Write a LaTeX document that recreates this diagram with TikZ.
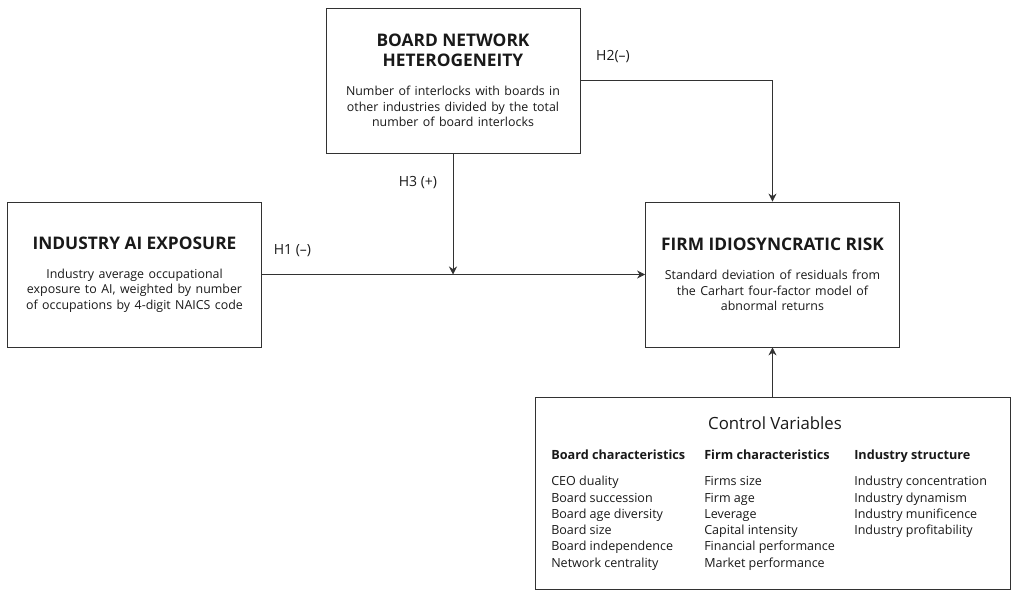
\documentclass[tikz,border=0pt]{standalone}
\usepackage{fontspec}
\setmainfont{Open Sans}
\usetikzlibrary{arrows.meta,positioning}
\definecolor{ink}{RGB}{25,25,25}
\definecolor{frame}{RGB}{50,50,50}
\newcommand{\vtitle}{\fontsize{13}{15}\selectfont\bfseries}
\newcommand{\vdesc}{\fontsize{9.3}{11.7}\selectfont}
\tikzset{
  var/.style={draw=frame,line width=0.6pt,align=center,inner sep=0pt,text width=190.5pt,
    minimum height=108.75pt,text=ink},
  arr/.style={-{Stealth[length=6pt,width=6pt]},line width=0.6pt,frame},
  hyp/.style={font=\fontsize{10.5}{12}\selectfont,text=ink,inner sep=0pt},
  colhead/.style={anchor=base west,inner sep=0pt,text=ink,font=\fontsize{9.5}{11}\selectfont\bfseries},
  item/.style={anchor=base west,inner sep=0pt,text=ink,font=\fontsize{9.4}{11}\selectfont},
}

\begin{document}
\begin{tikzpicture}[x=0.75pt,y=-0.75pt]
\useasboundingbox (0,0) rectangle (1011,591);
% variables
\node[var] (board) at (453,80.5) {{\vtitle BOARD NETWORK\\HETEROGENEITY\par}\vspace{10pt}%
  {\vdesc Number of interlocks with boards in\\other industries divided by the total\\number of board interlocks\par}};
\node[var] (ai) at (134.5,274.5) {{\vtitle INDUSTRY AI EXPOSURE\par}\vspace{10pt}%
  {\vdesc Industry average occupational\\exposure to AI, weighted by number\\of occupations by 4-digit NAICS code\par}};
\node[var] (risk) at (772.5,274.5) {{\vtitle FIRM IDIOSYNCRATIC RISK\par}\vspace{10pt}%
  {\vdesc Standard deviation of residuals from\\the Carhart four-factor model of\\abnormal returns\par}};
% controls
\node[draw=frame,line width=0.6pt,minimum width=356.25pt,minimum height=144pt,inner sep=0pt] (ctrl) at (772.5,493) {};
\node[text=ink,font=\fontsize{12.6}{14}\selectfont,inner sep=0pt,anchor=base] (ctrlT) at (775,430) {Control Variables};
\node[colhead] (hb) at (551,460) {Board characteristics};
\node[colhead] (hf) at (704,460) {Firm characteristics};
\node[colhead] (hs) at (854,460) {Industry structure};
\foreach \i/\t in {0/CEO duality,1/Board succession,2/Board age diversity,3/Board size,
  4/Board independence,5/Network centrality}
  \node[item] (b\i) at (551,486+16.2*\i) {\t};
\foreach \i/\t in {0/Firms size,1/Firm age,2/Leverage,3/Capital intensity,
  4/Financial performance,5/Market performance}
  \node[item] (f\i) at (704,486+16.2*\i) {\t};
\foreach \i/\t in {0/Industry concentration,1/Industry dynamism,2/Industry munificence,
  3/Industry profitability}
  \node[item] (s\i) at (854,486+16.2*\i) {\t};
% hypotheses
\coordinate (mod) at (board.south |- ai.east);
\draw[arr] (ai.east) -- (risk.west);
\draw[arr] (board.south) -- (mod);
\draw[arr] (board.east) -| (risk.north);
\draw[arr] (ctrl.north) -- (risk.south);
\node[hyp] (h1) at (292.5,251) {H1 (--)};
\node[hyp] (h2) at (613,57) {H2(--)};
\node[hyp] (h3) at (418,183) {H3 (+)};
\end{tikzpicture}
\end{document}
